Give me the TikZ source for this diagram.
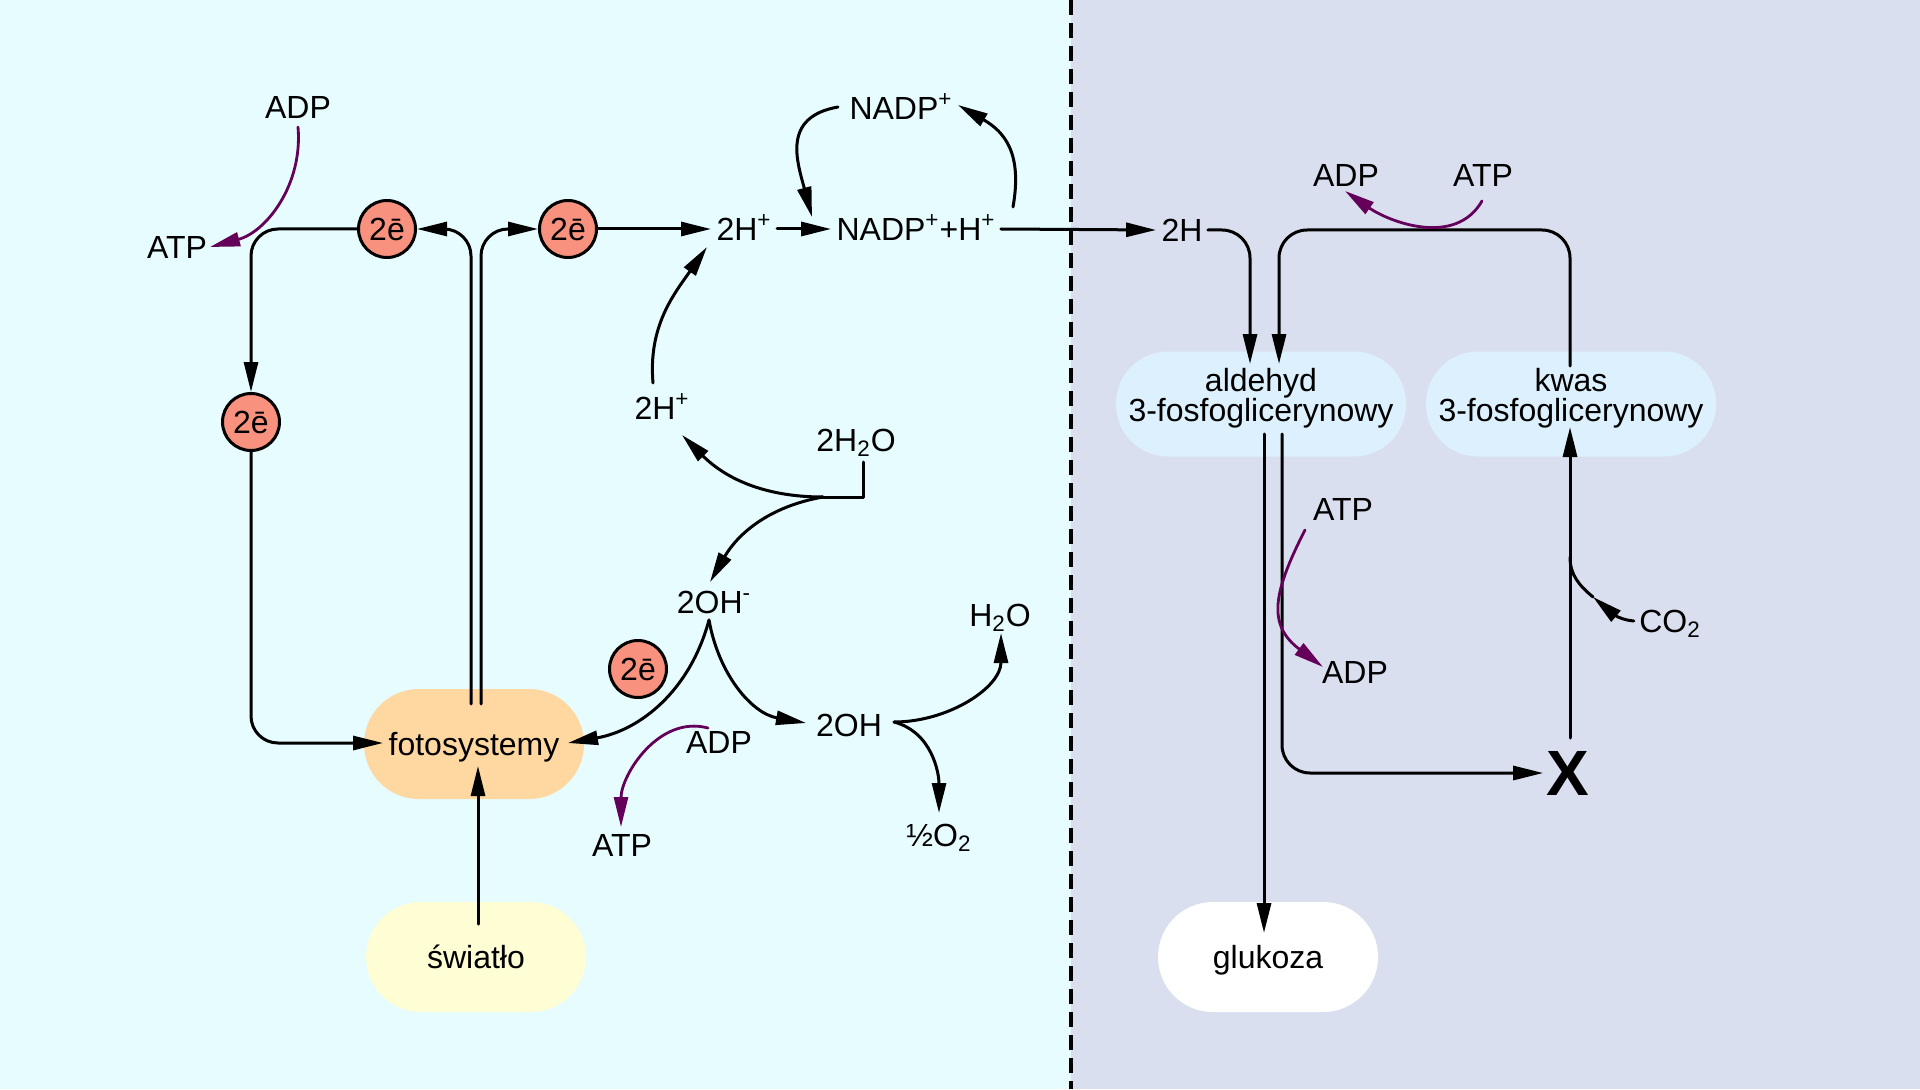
\documentclass[tikz,border=0pt]{standalone}
\usepackage{fontspec}
\setmainfont{Liberation Sans}
\usetikzlibrary{arrows.meta}
\definecolor{tloL}{RGB}{230,252,255}
\definecolor{tloP}{RGB}{217,223,238}
\definecolor{elektron}{RGB}{248,146,126}
\definecolor{pomar}{RGB}{255,215,160}
\definecolor{zolty}{RGB}{255,253,212}
\definecolor{niebieski}{RGB}{220,241,253}
\definecolor{fiolet}{RGB}{100,0,90}
\begin{document}
\begin{tikzpicture}[x=0.5pt,y=0.5pt,>={Triangle[length=15pt,width=7pt]},line join=round,line cap=round,line width=1.5pt,
	font=\fontsize{16}{18}\selectfont,
	lbl/.style={inner sep=2pt,text height=11.5pt,text depth=0pt},
	elek/.style={circle,draw,fill=elektron,minimum size=28.5pt,inner sep=0pt},
	pill/.style={rounded corners=27.5pt,minimum width=110pt,minimum height=55pt,text height=11.5pt,text depth=0pt},
	pill2/.style={fill=niebieski,rounded corners=26pt,minimum width=145pt,minimum height=52.5pt,align=center,text depth=9.5pt,font=\fontsize{16}{15}\selectfont},
	arr/.style={->},
	parr/.style={->,color=fiolet,line width=1.4pt}]
				\useasboundingbox (0,0) rectangle (1920,1089);
				\fill[tloL] (0,0) rectangle (1071,1089);
				\fill[tloP] (1071,0) rectangle (1920,1089);
				\draw[line cap=butt,line width=2pt,dash pattern=on 7.5pt off 4pt] (1071,1089) -- (1071,0);
				\path 
				(298,982) node[lbl] (adpA) {ADP}
				(177,842) node[lbl] (atpA) {ATP}
				(387,860) node[elek] (eA) {2ē}
				(568,860) node[elek] (eB) {2ē}
				(251,667) node[elek] (eC) {2ē}
				(638,420) node[elek] (eD) {2ē}
				(474,345) node[pill,fill=pomar] (foto) {fotosystemy}
				(476,132) node[pill,fill=zolty] (swiatlo) {światło}
				(744,860) node[lbl] (hA) {2H\textsuperscript{+}}
				(916,860) node[lbl] (nadpH) {NADP\textsuperscript{+}+H\textsuperscript{+}}
				(901,981) node[lbl] (nadp) {NADP\textsuperscript{+}}
				(662,681) node[lbl] (hB) {2H\textsuperscript{+}}
				(856,649) node[lbl] (water) {2H\textsubscript{2}O}
				(714,487) node[lbl] (ohm) {2OH\textsuperscript{-}}
				(849,364) node[lbl] (oh) {2OH}
				(1000,474) node[lbl] (h2o) {H\textsubscript{2}O}
				(939,254) node[lbl] (o2) {½O\textsubscript{2}}
				(719,347) node[lbl] (adpB) {ADP}
				(622,244) node[lbl] (atpB) {ATP}
				(1182,859) node[lbl] (hC) {2H}
				(1346,914) node[lbl] (adpC) {ADP}
				(1483,914) node[lbl] (atpC) {ATP}
				(1261,685) node[pill2] (ald) {aldehyd\\3-fosfoglicerynowy}
				(1571,685) node[pill2] (kwas) {kwas\\3-fosfoglicerynowy}
				(1343,580) node[lbl] (atpD) {ATP}
				(1355,417) node[lbl] (adpD) {ADP}
				(1670,468) node[lbl] (co2) {CO\textsubscript{2}}
				(1568,316) node[font=\fontsize{32}{32}\selectfont\bfseries,inner sep=1pt] (X) {X}
				(1268,132) node[pill,fill=white] (gluk) {glukoza}
				;
				% faza jasna
				\draw[arr,rounded corners=13.5pt] (eA.west) -| (eC.north);
				\draw[arr,rounded corners=13.5pt] (eC.south) |- ([shift={(-91,1)}]foto.center);
				\draw[arr,rounded corners=13.5pt] ([shift={(-3,40)}]foto.center) |- (eA.east);
				\draw[arr,rounded corners=13.5pt] ([shift={(7,40)}]foto.center) |- (eB.west);
				\draw[arr] ([shift={(2,33)}]swiatlo.center) -- ([shift={(4,-22)}]foto.center);
				\draw[arr] (eB.east) -- (hA.west);
				\draw[arr] (hA.east) -- (nadpH.west);
				\draw[arr] ([shift={(-63,1)}]nadp.center) to[out=190,in=105,looseness=1.3] ([shift={(-104,12)}]nadpH.center);
				\draw[arr] ([shift={(97,22)}]nadpH.center) to[out=80,in=-30,looseness=1.2] ([shift={(57,3)}]nadp.center);
				\draw[arr] ([shift={(-9,25)}]hB.center) to[out=95,in=-125] ([shift={(-37,-18)}]hA.center);
				\coordinate (wsplit) at ([shift={(-33,-57)}]water.center);
				\draw ([shift={(7,-22)}]water.center) |- (wsplit);
				\draw[arr] (wsplit) to[out=180,in=-45] ([shift={(20,-27)}]hB.center);
				\draw[arr] (wsplit) to[out=190,in=60] ([shift={(-4,20)}]ohm.center);
				\draw[arr] ([shift={(-5,-18)}]ohm.center) to[out=-105,in=10] ([shift={(94,1)}]foto.center);
				\draw[arr] ([shift={(-5,-18)}]ohm.center) to[out=-80,in=170] ([shift={(-43,2)}]oh.center);
				\draw[arr] ([shift={(45,3)}]oh.center) to[out=0,in=-90] ([shift={(1,-18)}]h2o.center);
				\draw[arr] ([shift={(45,3)}]oh.center) to[out=-15,in=90] ([shift={(0,22)}]o2.center);
				\draw[parr] ([shift={(0,-20)}]adpA.center) to[out=-85,in=15] ([shift={(33,0)}]atpA.center);
				\draw[parr] ([shift={(-11,14)}]adpB.center) to[out=165,in=90] ([shift={(-1,18)}]atpB.center);
				% faza ciemna
				\draw[arr] (nadpH.east) -- (hC.west);
				\draw[arr,rounded corners=14pt] (hC.east) -| ([shift={(-11,40)}]ald.center);
				\draw[arr,rounded corners=14pt] ([shift={(-1,38)}]kwas.center) |- ([shift={(18,174)}]ald.center) -- ([shift={(18,40)}]ald.center);
				\draw[arr] ([shift={(3,-30)}]ald.center) -- ([shift={(-4,24)}]gluk.center);
				\draw[arr,rounded corners=14pt] ([shift={(21,-30)}]ald.center) |- (X.west);
				\draw[arr] ([shift={(2,35)}]X.center) -- ([shift={(-1,-23)}]kwas.center);
				\coordinate (co2tip) at ([shift={(-77,24)}]co2.center);
				\coordinate (co2join) at ([shift={(-100,64)}]co2.center);
				\draw[arr] (co2.west) to[out=175,in=-40] (co2tip);
				\draw (co2tip) to[out=140,in=-90] (co2join);
				\draw[parr] ([shift={(-1,-26)}]atpC.center) to[out=-120,in=-35] ([shift={(-1,-16)}]adpC.center);
				\draw[parr] ([shift={(-38,-21)}]atpD.center) to[out=243,in=143,looseness=1.3] ([shift={(-32,5)}]adpD.center);
			\end{tikzpicture}
\end{document}
